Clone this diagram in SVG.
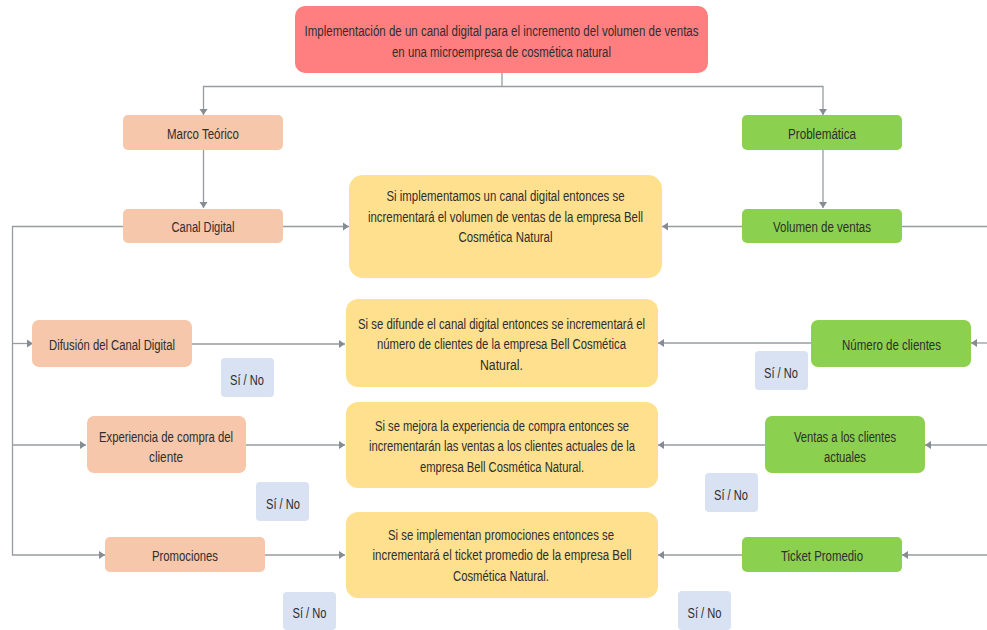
<svg xmlns="http://www.w3.org/2000/svg" width="987" height="630" viewBox="0 0 987 630">
<style>
text{font-family:"Liberation Sans",Arial,sans-serif;font-size:15.5px;fill:#2e2e2e;text-anchor:middle;dominant-baseline:central}
.red{fill:#ff7f81}.or{fill:#f6c7aa}.gr{fill:#8cd050}.ye{fill:#ffe08f}.bl{fill:#d9e2f2}
.c{fill:none;stroke:#989ca1;stroke-width:1.3}
</style>
<defs><marker id="a" markerUnits="userSpaceOnUse" markerWidth="7" markerHeight="9" refX="6" refY="4.500" orient="auto"><path d="M0 .5L6 4.500L0 8.500Z" fill="#868c93"/></marker></defs>
<rect width="987" height="630" fill="#fff"/>
<g id="connectors">
<path class="c" d="M502 73V86.500"/>
<path class="c" d="M502 86.500H203.500V115" marker-end="url(#a)"/>
<path class="c" d="M502 86.500H823V115" marker-end="url(#a)"/>
<path class="c" d="M203.500 150V208" marker-end="url(#a)"/>
<path class="c" d="M823 150V208" marker-end="url(#a)"/>
<path class="c" d="M283 226.500H349" marker-end="url(#a)"/>
<path class="c" d="M742 226.500H662" marker-end="url(#a)"/>
<path class="c" d="M987 226.500H902"/>
<path class="c" d="M123 226.500H12.500V555H105" marker-end="url(#a)"/>
<path class="c" d="M12.500 343.500H33" marker-end="url(#a)"/>
<path class="c" d="M12.500 445H86" marker-end="url(#a)"/>
<path class="c" d="M192 344H345" marker-end="url(#a)"/>
<path class="c" d="M246 445H345" marker-end="url(#a)"/>
<path class="c" d="M265 555H345" marker-end="url(#a)"/>
<path class="c" d="M811 343H658" marker-end="url(#a)"/>
<path class="c" d="M987 343H971" marker-end="url(#a)"/>
<path class="c" d="M765 445H658" marker-end="url(#a)"/>
<path class="c" d="M987 445H925" marker-end="url(#a)"/>
<path class="c" d="M742 555H658" marker-end="url(#a)"/>
<path class="c" d="M987 555H902" marker-end="url(#a)"/>
</g>
<g id="title"><rect class="red" x="295" y="6" width="413" height="67" rx="10"/>
<text x="501.500" y="30" textLength="394" lengthAdjust="spacingAndGlyphs">Implementación de un canal digital para el incremento del volumen de ventas</text>
<text x="501.500" y="51" textLength="219" lengthAdjust="spacingAndGlyphs">en una microempresa de cosmética natural</text></g>
<g id="marco"><rect class="or" x="123" y="115" width="160" height="35" rx="5"/><text x="203" y="133" textLength="72" lengthAdjust="spacingAndGlyphs">Marco Teórico</text></g>
<g id="canal"><rect class="or" x="123" y="209" width="160" height="34" rx="5"/><text x="203" y="226.500" textLength="63" lengthAdjust="spacingAndGlyphs">Canal Digital</text></g>
<g id="problematica"><rect class="gr" x="742" y="115" width="160" height="35" rx="5"/><text x="822" y="133" textLength="68" lengthAdjust="spacingAndGlyphs">Problemática</text></g>
<g id="volumen"><rect class="gr" x="742" y="209" width="160" height="34" rx="5"/><text x="822" y="226.500" textLength="98" lengthAdjust="spacingAndGlyphs">Volumen de ventas</text></g>
<g id="h0"><rect class="ye" x="349" y="175" width="313" height="103" rx="14"/>
<text x="505.500" y="195.500" textLength="238" lengthAdjust="spacingAndGlyphs">Si implementamos un canal digital entonces se</text>
<text x="505.500" y="216" textLength="275" lengthAdjust="spacingAndGlyphs">incrementará el volumen de ventas de la empresa Bell</text>
<text x="505.500" y="236.500" textLength="94" lengthAdjust="spacingAndGlyphs">Cosmética Natural</text></g>
<g id="h1"><rect class="ye" x="346" y="299" width="312" height="88" rx="12"/>
<text x="501.500" y="323" textLength="287" lengthAdjust="spacingAndGlyphs">Si se difunde el canal digital entonces se incrementará el</text>
<text x="501.500" y="343.500" textLength="249" lengthAdjust="spacingAndGlyphs">número de clientes de la empresa Bell Cosmética</text>
<text x="501.500" y="364.500" textLength="43" lengthAdjust="spacingAndGlyphs">Natural.</text></g>
<g id="h2"><rect class="ye" x="346" y="402" width="312" height="86" rx="12"/>
<text x="502" y="425" textLength="254" lengthAdjust="spacingAndGlyphs">Si se mejora la experiencia de compra entonces se</text>
<text x="502" y="445.500" textLength="266" lengthAdjust="spacingAndGlyphs">incrementarán las ventas a los clientes actuales de la</text>
<text x="502" y="466.500" textLength="164" lengthAdjust="spacingAndGlyphs">empresa Bell Cosmética Natural.</text></g>
<g id="h3"><rect class="ye" x="346" y="512" width="312" height="86" rx="12"/>
<text x="501" y="534" textLength="226" lengthAdjust="spacingAndGlyphs">Si se implementan promociones entonces se</text>
<text x="502" y="554.500" textLength="259" lengthAdjust="spacingAndGlyphs">incrementará el ticket promedio de la empresa Bell</text>
<text x="501" y="575.500" textLength="96" lengthAdjust="spacingAndGlyphs">Cosmética Natural.</text></g>
<g id="difusion"><rect class="or" x="32" y="320" width="160" height="47" rx="7"/><text x="112" y="344" textLength="126" lengthAdjust="spacingAndGlyphs">Difusión del Canal Digital</text></g>
<g id="experiencia"><rect class="or" x="87" y="416" width="159" height="57" rx="7"/>
<text x="166" y="436" textLength="134" lengthAdjust="spacingAndGlyphs">Experiencia de compra del</text>
<text x="166" y="456.500" textLength="34" lengthAdjust="spacingAndGlyphs">cliente</text></g>
<g id="promociones"><rect class="or" x="105" y="537" width="160" height="35" rx="5"/><text x="185" y="555" textLength="66" lengthAdjust="spacingAndGlyphs">Promociones</text></g>
<g id="numero"><rect class="gr" x="811" y="320" width="160" height="47" rx="7"/><text x="891.500" y="344" textLength="99" lengthAdjust="spacingAndGlyphs">Número de clientes</text></g>
<g id="ventas"><rect class="gr" x="765" y="416" width="160" height="57" rx="7"/>
<text x="845" y="436" textLength="102" lengthAdjust="spacingAndGlyphs">Ventas a los clientes</text>
<text x="845" y="456.500" textLength="42" lengthAdjust="spacingAndGlyphs">actuales</text></g>
<g id="ticket"><rect class="gr" x="742" y="537" width="160" height="35" rx="5"/><text x="822" y="555" textLength="82" lengthAdjust="spacingAndGlyphs">Ticket Promedio</text></g>
<g id="s1"><rect class="bl" x="221" y="358" width="53" height="39" rx="4"/><text x="247" y="379" textLength="34" lengthAdjust="spacingAndGlyphs">Sí / No</text></g>
<g id="s2"><rect class="bl" x="256" y="482" width="53" height="39" rx="4"/><text x="283" y="503" textLength="34" lengthAdjust="spacingAndGlyphs">Sí / No</text></g>
<g id="s3"><rect class="bl" x="283" y="592" width="53" height="38" rx="4"/><text x="309.500" y="612" textLength="34" lengthAdjust="spacingAndGlyphs">Sí / No</text></g>
<g id="s4"><rect class="bl" x="755" y="351" width="53" height="39" rx="4"/><text x="781" y="372" textLength="34" lengthAdjust="spacingAndGlyphs">Sí / No</text></g>
<g id="s5"><rect class="bl" x="705" y="473" width="53" height="39" rx="4"/><text x="731" y="494" textLength="34" lengthAdjust="spacingAndGlyphs">Sí / No</text></g>
<g id="s6"><rect class="bl" x="678" y="591" width="53" height="39" rx="4"/><text x="704.500" y="612" textLength="34" lengthAdjust="spacingAndGlyphs">Sí / No</text></g>
</svg>
